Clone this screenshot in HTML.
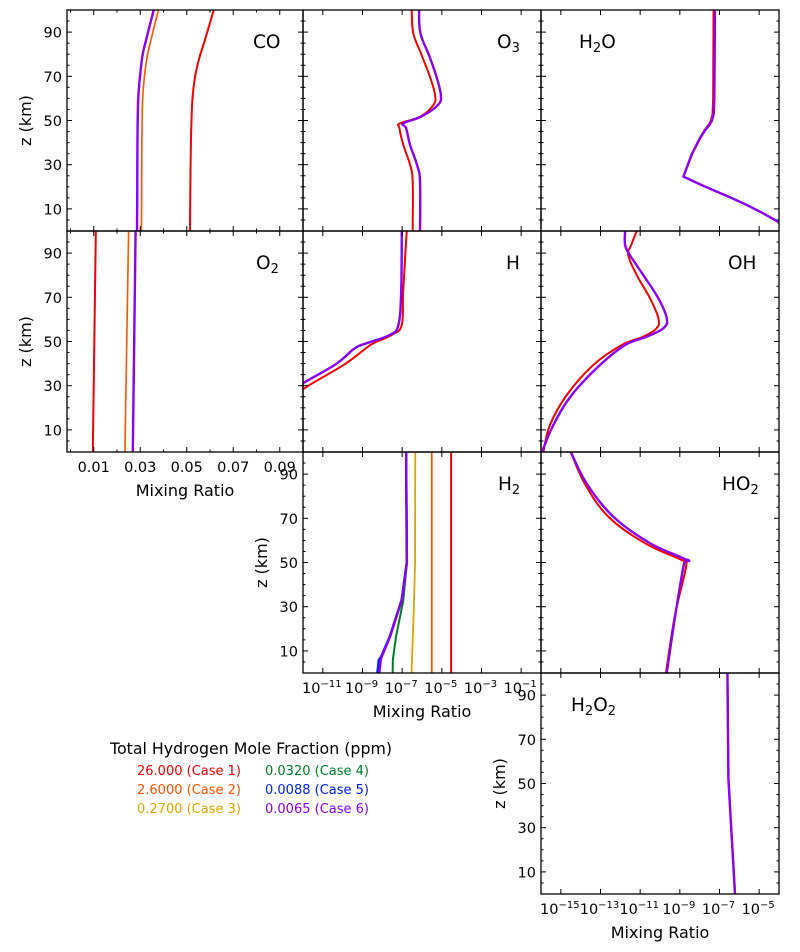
<!DOCTYPE html>
<html><head><meta charset="utf-8"><title>Mixing ratio profiles</title>
<style>
html,body{margin:0;padding:0;background:#fff;}
svg{display:block;font-family:"DejaVu Sans","Liberation Sans",sans-serif;}
</style></head>
<body>
<svg id="fig" width="800" height="952" viewBox="0 0 800 952" xmlns="http://www.w3.org/2000/svg">
<g id="legend" font-size="13">
<text x="110" y="754" font-size="15.8" fill="#000">Total Hydrogen Mole Fraction (ppm)</text>
<text x="137" y="775" fill="#ee0000">26.000 (Case 1)</text>
<text x="137" y="794" fill="#ff5500">2.6000 (Case 2)</text>
<text x="137" y="813" fill="#daa500">0.2700 (Case 3)</text>
<text x="265" y="775" fill="#007a2a">0.0320 (Case 4)</text>
<text x="265" y="794" fill="#0022ee">0.0088 (Case 5)</text>
<text x="265" y="813" fill="#8800ee">0.0065 (Case 6)</text>
</g>
</svg>
<script>
// ---- data (altitudes in km; linear panels: mixing ratio; log panels: log10 mixing ratio) ----
const coZ = [0, 14, 40, 59, 70, 79, 86, 100];
const coCase1 = [0.0514, 0.0515, 0.0518, 0.0524, 0.0536, 0.0556, 0.0577, 0.0616];
const coCase2 = [0.0305, 0.0306, 0.0307, 0.0310, 0.0318, 0.0330, 0.0345, 0.0378];
const coCase6 = [0.0286, 0.0287, 0.0288, 0.0291, 0.0299, 0.0309, 0.0324, 0.0358];
const o2Z = [0, 100];
const o2Case1 = [0.0096, 0.0109];
const o2Case2 = [0.0234, 0.0250];
const o2Case6 = [0.0268, 0.0280];
const o3Z = [0, 22.3, 29.9, 38.9, 46.5, 48.7, 51.7, 57, 61.5, 69.8, 79.6, 89.5, 100];
const o3Case1 = [-6.47, -6.47, -6.6, -6.94, -7.14, -7.11, -6.1, -5.43, -5.34, -5.6, -6.02, -6.44, -6.52];
const o3Case6 = [-6.1, -6.1, -6.25, -6.6, -6.8, -6.95, -6.05, -5.2, -5.05, -5.27, -5.65, -6.08, -6.15];
const h2oZ = [0, 4.2, 8, 11.8, 15, 17.8, 21, 24.6, 35, 42, 45.6, 48, 50, 53, 60, 100];
const h2oCase1 = [-3.7, -4.05, -4.8, -5.63, -6.4, -7.14, -7.95, -8.82, -8.4, -8.0, -7.76, -7.55, -7.43, -7.35, -7.32, -7.3];
const h2oCase6 = [-3.7, -4.05, -4.8, -5.63, -6.4, -7.14, -7.95, -8.82, -8.38, -7.98, -7.73, -7.5, -7.38, -7.29, -7.26, -7.23];
const hZ = [20, 28.8, 39.4, 46.9, 49.2, 53, 57.5, 72.5, 100];
const hCase1 = [-13.1, -11.93, -9.95, -8.83, -8.45, -7.53, -7.02, -6.95, -6.77];
const hCase6 = [-13.4, -12.4, -10.4, -9.4, -8.8, -7.61, -7.19, -7.05, -7.02];
const ohZ = [0, 12.2, 25.8, 39.4, 48.4, 52.2, 56, 60.5, 69.5, 80, 89, 93.7, 100];
const ohCase1 = [-15.88, -15.55, -14.7, -13.36, -11.93, -10.84, -10.17, -10.08, -10.5, -11.17, -11.6, -11.45, -11.17];
const ohCase6 = [-15.95, -15.38, -14.45, -13.02, -11.76, -10.67, -9.83, -9.66, -10.08, -10.84, -11.51, -11.76, -11.76];
const ho2Z = [0, 25.5, 49, 51.1, 58.7, 70.7, 85.8, 100.9];
const ho2Case1 = [-9.7, -9.26, -8.67, -8.9, -10.75, -12.6, -13.8, -14.54];
const ho2Case6 = [-9.66, -9.24, -8.8, -8.65, -10.5, -12.35, -13.7, -14.54];
const h2Z = [0, 5.9, 7.4, 16.4, 33, 50, 100];
const h2Case1 = [-4.53, -4.53, -4.53, -4.53, -4.53, -4.53, -4.53];
const h2Case2 = [-5.51, -5.51, -5.51, -5.51, -5.51, -5.51, -5.51];
const h2Case3 = [-6.52, -6.51, -6.5, -6.46, -6.4, -6.35, -6.34];
const h2Case4 = [-7.48, -7.47, -7.45, -7.31, -6.94, -6.76, -6.8];
const h2Case5 = [-8.25, -8.18, -8.06, -7.63, -7.03, -6.77, -6.8];
const h2Case6 = [-8.15, -8.08, -8.03, -7.61, -7.02, -6.76, -6.8];
const h2o2Z = [0, 52, 100];
const h2o2Case6 = [-6.22, -6.55, -6.6];
const h2o2Case1 = [-6.21, -6.55, -6.6];
const zTicks = [10, 30, 50, 70, 90];
const linTicks = [0.01, 0.03, 0.05, 0.07, 0.09];
const logTicksMid = [-11, -9, -7, -5, -3, -1];
const logTicksRight = [-15, -13, -11, -9, -7, -5];

// ---- drawing ----
const NS = 'http://www.w3.org/2000/svg';
const svg = document.getElementById('fig');
const C = {c1:'#ee0000', c2:'#ff5500', c3:'#daa500', c4:'#007a2a', c5:'#0022ee', c6:'#8800ee'};
const cols = [[67,303],[303,541],[541,779]];
const rows = [[10,231],[231,452],[452,673],[673,894]];

function mk(tag, attrs, parent){ const e=document.createElementNS(NS,tag); for(const k in attrs) e.setAttribute(k,attrs[k]); (parent||svg).appendChild(e); return e; }

function smoothPath(pts){
  if(pts.length<3) return 'M'+pts.map(p=>p[0].toFixed(2)+','+p[1].toFixed(2)).join('L');
  let d='M'+pts[0][0].toFixed(2)+','+pts[0][1].toFixed(2);
  for(let i=0;i<pts.length-1;i++){
    const p0=pts[Math.max(0,i-1)],p1=pts[i],p2=pts[i+1],p3=pts[Math.min(pts.length-1,i+2)];
    const t=0.18;
    const c1=[p1[0]+(p2[0]-p0[0])*t, p1[1]+(p2[1]-p0[1])*t];
    const c2=[p2[0]-(p3[0]-p1[0])*t, p2[1]-(p3[1]-p1[1])*t];
    d+='C'+c1.map(v=>v.toFixed(2)).join(',')+' '+c2.map(v=>v.toFixed(2)).join(',')+' '+p2[0].toFixed(2)+','+p2[1].toFixed(2);
  }
  return d;
}

let clipId=0;
function panel(cfg){
  const [x0,x1]=cols[cfg.col], [y0,y1]=rows[cfg.row];
  const g=mk('g',{});
  
  
  const xs = v => x0 + (v - cfg.dom[0])/(cfg.dom[1]-cfg.dom[0])*(x1-x0);
  const ys = z => y1 - z/100*(y1-y0);
  const id='clip'+(clipId++);
  const cp=mk('clipPath',{id:id},g); mk('rect',{x:x0,y:y0,width:x1-x0,height:y1-y0},cp);
  const sg=mk('g',{'clip-path':'url(#'+id+')'},g);
  cfg.series.forEach(s=>{
    const pts=s.vals.map((v,i)=>[xs(v), ys(s.z[i])]);
    const p=mk('path',{d: cfg.sharp? 'M'+pts.map(q=>q[0].toFixed(2)+','+q[1].toFixed(2)).join('L') : smoothPath(pts), fill:'none', stroke:s.color, 'stroke-width':s.w||2, 'stroke-linejoin':'round'},sg);
    
    
  });
  mk('rect',{x:x0,y:y0,width:x1-x0,height:y1-y0,fill:'none',stroke:'#000','stroke-width':1.3},g);
  for(let z=0;z<=100;z+=5){
    const y=ys(z), major=zTicks.includes(z), L=major?5:2.5;
    mk('line',{x1:x0,x2:x0+L,y1:y,y2:y,stroke:'#000','stroke-width':1},g);
    mk('line',{x1:x1,x2:x1-L,y1:y,y2:y,stroke:'#000','stroke-width':1},g);
  }
  if(cfg.ylab){
    zTicks.forEach(z=>{ const t=mk('text',{x:x0-5,y:ys(z)+5.5,'text-anchor':'end','font-size':14.5},g); t.textContent=z;
        });
    const cy=(y0+y1)/2, cx=x0-36;
    const t=mk('text',{x:cx,y:cy,'text-anchor':'middle','font-size':16,transform:'rotate(-90 '+cx+' '+cy+')'},g);
    t.textContent='z (km)';
     
  }
  cfg.xticks.forEach(v=>{ const x=xs(v);
    mk('line',{x1:x,x2:x,y1:y1,y2:y1-5,stroke:'#000','stroke-width':1},g);
    mk('line',{x1:x,x2:x,y1:y0,y2:y0+5,stroke:'#000','stroke-width':1},g); });
  (cfg.xminor||[]).forEach(v=>{ const x=xs(v);
    mk('line',{x1:x,x2:x,y1:y1,y2:y1-2.5,stroke:'#000','stroke-width':1},g);
    mk('line',{x1:x,x2:x,y1:y0,y2:y0+2.5,stroke:'#000','stroke-width':1},g); });
  if(cfg.xlab){
    cfg.xticks.forEach(v=>{ const x=xs(v);
      const t=mk('text',{x:x,y:y1+20,'text-anchor':'middle','font-size':14.5},g);
      if(cfg.log){ t.textContent='10'; const sp=mk('tspan',{dy:-6,'font-size':10},t); sp.textContent='\u2212'+Math.abs(v); t.setAttribute('x',x-1); }
      else t.textContent=v.toFixed(2);
        });
    const t=mk('text',{x:(x0+x1)/2,y:y1+44,'text-anchor':'middle','font-size':16},g);
    t.textContent='Mixing Ratio';
     
  }
  const t=mk('text',{x:cfg.lx,y:y0+38,'font-size':18.5},g);
   
  cfg.label.forEach(part=>{ const sp=mk('tspan',{},t); sp.textContent=part[0]; if(part[1]){sp.setAttribute('font-size',13);sp.setAttribute('dy',4);} else if(t.childNodes.length>1){sp.setAttribute('dy',-4);} });
}

const linDom=[-0.0015,0.1], midDom=[-12,0], rightDom=[-16,-4];
const linMinor=[0,0.02,0.04,0.06,0.08,0.10];

panel({name:'co',col:0,row:0,dom:linDom,xticks:linTicks,xminor:linMinor,ylab:true,lx:253,label:[['CO']],
  series:[{z:coZ,vals:coCase2,color:C.c2,w:1.6,label:'case2'},{z:coZ,vals:coCase6,color:C.c6,w:2.4,label:'case6'},{z:coZ,vals:coCase1,color:C.c1,w:2,label:'case1'}]});
panel({name:'o2',col:0,row:1,dom:linDom,xticks:linTicks,xminor:linMinor,ylab:true,xlab:true,lx:256,label:[['O'],['2',1]],
  series:[{z:o2Z,vals:o2Case2,color:C.c2,w:1.6,label:'case2'},{z:o2Z,vals:o2Case6,color:C.c6,w:2.4,label:'case6'},{z:o2Z,vals:o2Case1,color:C.c1,w:2,label:'case1'}]});
panel({name:'o3',col:1,row:0,dom:midDom,xticks:logTicksMid,log:true,lx:497,label:[['O'],['3',1]],
  series:[{z:o3Z,vals:o3Case1,color:C.c1,w:2,label:'case1'},{z:o3Z,vals:o3Case6,color:C.c6,w:2.4,label:'case6'}]});
panel({name:'h',col:1,row:1,dom:midDom,xticks:logTicksMid,log:true,lx:506,label:[['H']],
  series:[{z:hZ,vals:hCase1,color:C.c1,w:2,label:'case1'},{z:hZ,vals:hCase6,color:C.c6,w:2.4,label:'case6'}]});
panel({name:'h2',col:1,row:2,dom:midDom,xticks:logTicksMid,log:true,ylab:true,xlab:true,lx:498,sharp:true,label:[['H'],['2',1]],
  series:[{z:h2Z,vals:h2Case1,color:C.c1,w:2,label:'case1'},{z:h2Z,vals:h2Case2,color:C.c2,w:1.8,label:'case2'},{z:h2Z,vals:h2Case3,color:C.c3,w:1.8,label:'case3'},{z:h2Z,vals:h2Case4,color:C.c4,w:2,label:'case4'},{z:h2Z,vals:h2Case5,color:C.c5,w:2.4,label:'case5'},{z:h2Z,vals:h2Case6,color:C.c6,w:2.4,label:'case6'}]});
panel({name:'h2o',col:2,row:0,dom:rightDom,xticks:logTicksRight,log:true,lx:579,sharp:true,label:[['H'],['2',1],['O']],
  series:[{z:h2oZ,vals:h2oCase1,color:C.c1,w:2,label:'case1'},{z:h2oZ,vals:h2oCase6,color:C.c6,w:2.4,label:'case6'}]});
panel({name:'oh',col:2,row:1,dom:rightDom,xticks:logTicksRight,log:true,lx:728,label:[['OH']],
  series:[{z:ohZ,vals:ohCase1,color:C.c1,w:2,label:'case1'},{z:ohZ,vals:ohCase6,color:C.c6,w:2.4,label:'case6'}]});
panel({name:'ho2',col:2,row:2,dom:rightDom,xticks:logTicksRight,log:true,lx:722,label:[['HO'],['2',1]],
  series:[{z:ho2Z,vals:ho2Case1,color:C.c1,w:2,label:'case1'},{z:ho2Z,vals:ho2Case6,color:C.c6,w:2.4,label:'case6'}]});
panel({name:'h2o2',col:2,row:3,dom:rightDom,xticks:logTicksRight,log:true,ylab:true,xlab:true,lx:571,sharp:true,label:[['H'],['2',1],['O'],['2',1]],
  series:[{z:h2o2Z,vals:h2o2Case1,color:C.c1,w:2,label:'case1'},{z:h2o2Z,vals:h2o2Case6,color:C.c6,w:2.4,label:'case6'}]});
</script>
</body></html>
